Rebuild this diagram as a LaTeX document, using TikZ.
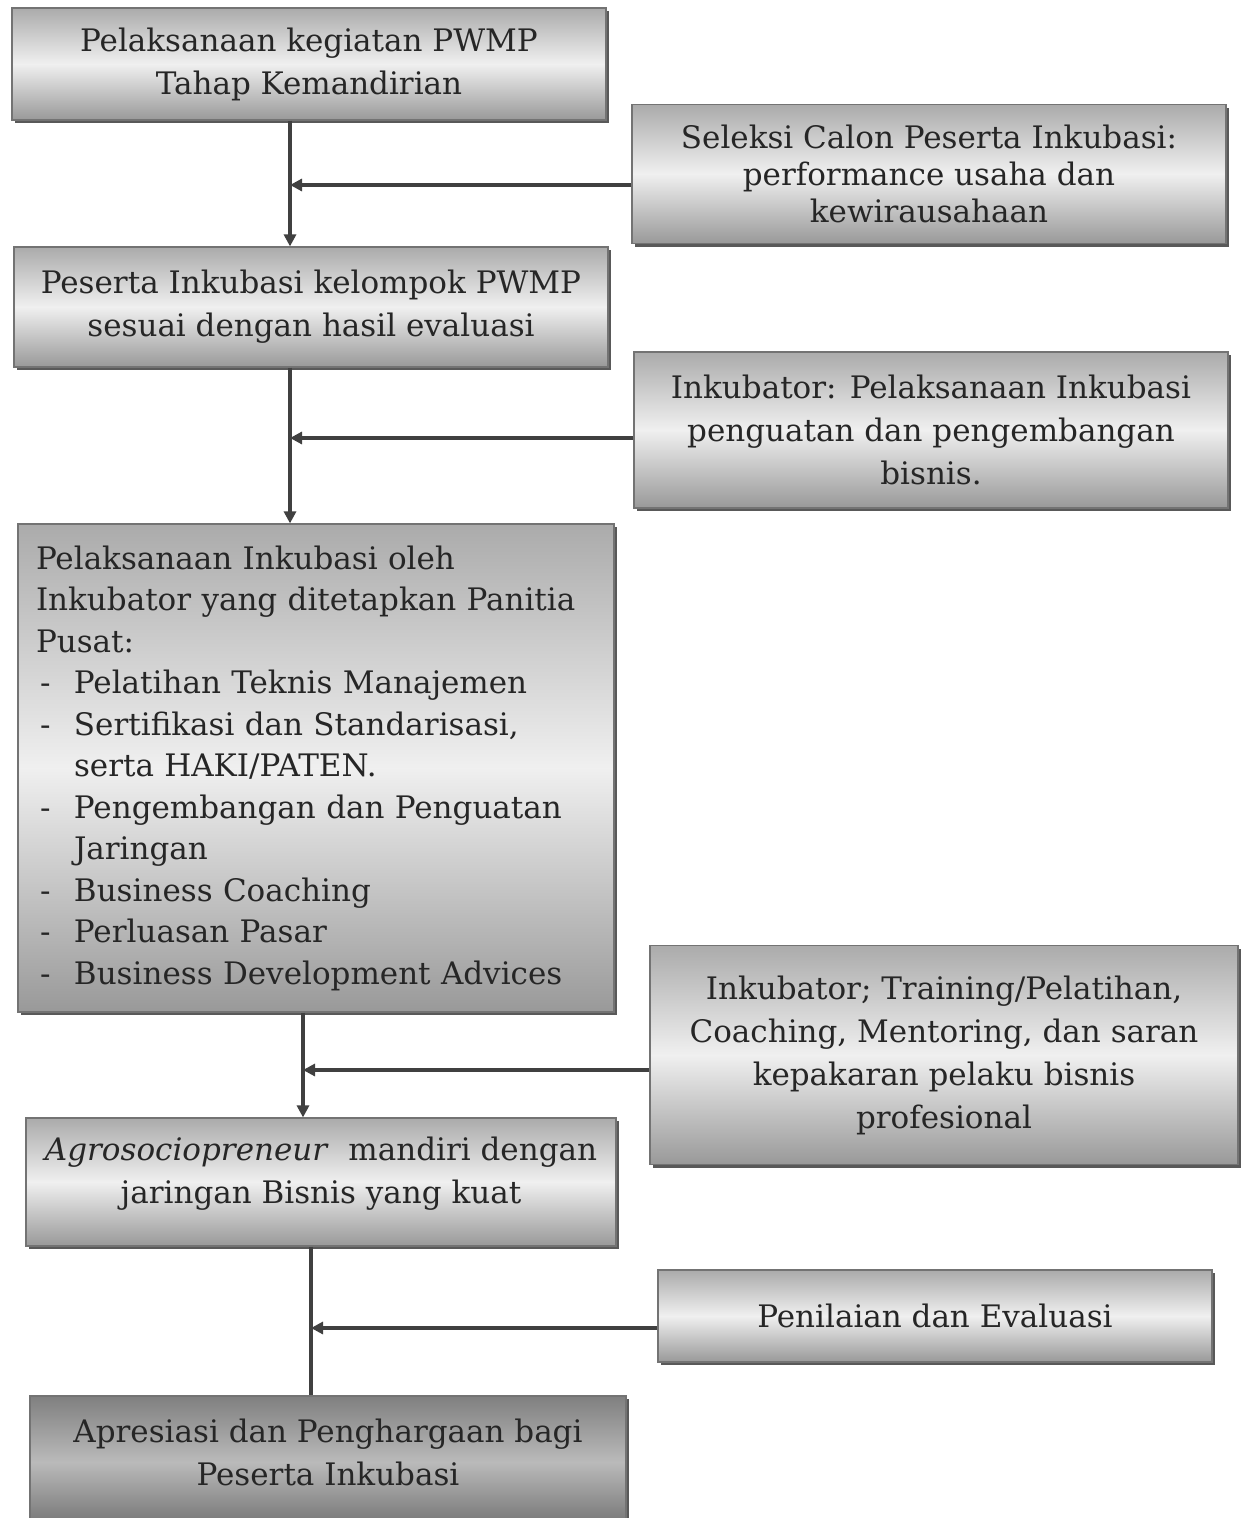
\documentclass[tikz,border=0pt]{standalone}
\usepackage{fontspec}
\setmainfont{DejaVu Serif}
\usetikzlibrary{arrows.meta,shadows,calc}
\begin{document}
\begin{tikzpicture}[x=0.5pt,y=-0.5pt,
  box/.style={draw=black!55, line width=0.6pt, top color=black!33, bottom color=black!40, middle color=black!6,
    drop shadow={shadow xshift=1.6pt, shadow yshift=-1.6pt, fill=black!65, opacity=1},
    align=center, inner sep=0pt, font=\fontsize{15.5}{21.5}\selectfont, text=black!85},
  darkbox/.style={box, top color=black!50, bottom color=black!55, middle color=black!27},
  txt/.style={align=center, inner sep=0pt, font=\fontsize{15.5}{21.5}\selectfont, text=black!85},
  conn/.style={draw=black!75, line width=2pt},
  arr/.style={conn, -{Triangle[length=6pt,width=6pt]}}]
\useasboundingbox[fill=white] (0,0) rectangle (1244,1518);

\node[box, minimum width=297pt, minimum height=56pt] (A) at (309,64)
  {Pelaksanaan kegiatan PWMP\\Tahap Kemandirian};
\node[box, minimum width=297pt, minimum height=69.5pt, font=\fontsize{15.5}{18.5}\selectfont] (B) at (929,174)
  {Seleksi Calon Peserta Inkubasi:\\performance usaha dan\\kewirausahaan};
\node[box, minimum width=297pt, minimum height=60pt] (C) at (311,307)
  {Peserta Inkubasi kelompok PWMP\\sesuai dengan hasil evaluasi};
\node[box, minimum width=297pt, minimum height=78pt] (D) at (931,430)
  {Inkubator: Pelaksanaan Inkubasi\\penguatan dan pengembangan\\bisnis.};
\node[box, minimum width=298pt, minimum height=244pt, align=left, text width=280pt,
      font=\fontsize{15.5}{20.75}\selectfont] (E) at (316,768)
  {Pelaksanaan Inkubasi oleh\\
   Inkubator yang ditetapkan Panitia\\
   Pusat:\\
   \makebox[19pt][l]{\hspace{2pt}-}Pelatihan Teknis Manajemen\\
   \makebox[19pt][l]{\hspace{2pt}-}Sertifikasi dan Standarisasi,\\
   \hspace*{19pt}serta HAKI/PATEN.\\
   \makebox[19pt][l]{\hspace{2pt}-}Pengembangan dan Penguatan\\
   \hspace*{19pt}Jaringan\\
   \makebox[19pt][l]{\hspace{2pt}-}Business Coaching\\
   \makebox[19pt][l]{\hspace{2pt}-}Perluasan Pasar\\
   \makebox[19pt][l]{\hspace{2pt}-}Business Development Advices};
\node[box, minimum width=294pt, minimum height=109.5pt] (F) at (944,1055)
  {Inkubator; Training/Pelatihan,\\Coaching, Mentoring, dan saran\\kepakaran pelaku bisnis\\profesional};
\node[box, minimum width=295pt, minimum height=64pt] (G) at (321,1182) {};
\node[txt] (Gt) at (321,1174)
  {\textit{Agrosociopreneur}\ \ mandiri dengan\\jaringan Bisnis yang kuat};
\node[box, minimum width=277pt, minimum height=46pt] (H) at (935,1316)
  {Penilaian dan Evaluasi};
\node[darkbox, minimum width=298pt, minimum height=66pt] (I) at (328,1462) {};
\node[txt] (It) at (328,1452)
  {Apresiasi dan Penghargaan bagi\\Peserta Inkubasi};

\coordinate (j1) at (290,185);
\coordinate (j2) at (290,438);
\coordinate (j3) at (303,1070);
\coordinate (j4) at (311,1328);

\draw[arr] (A.south -| j1) -- (C.north -| j1);
\draw[arr] (B.west |- j1) -- (j1);
\draw[arr] (C.south -| j2) -- (E.north -| j2);
\draw[arr] (D.west |- j2) -- (j2);
\draw[arr] (E.south -| j3) -- (G.north -| j3);
\draw[arr] (F.west |- j3) -- (j3);
\draw[conn] (G.south -| j4) -- (I.north -| j4);
\draw[arr] (H.west |- j4) -- (j4);
\end{tikzpicture}
\end{document}
